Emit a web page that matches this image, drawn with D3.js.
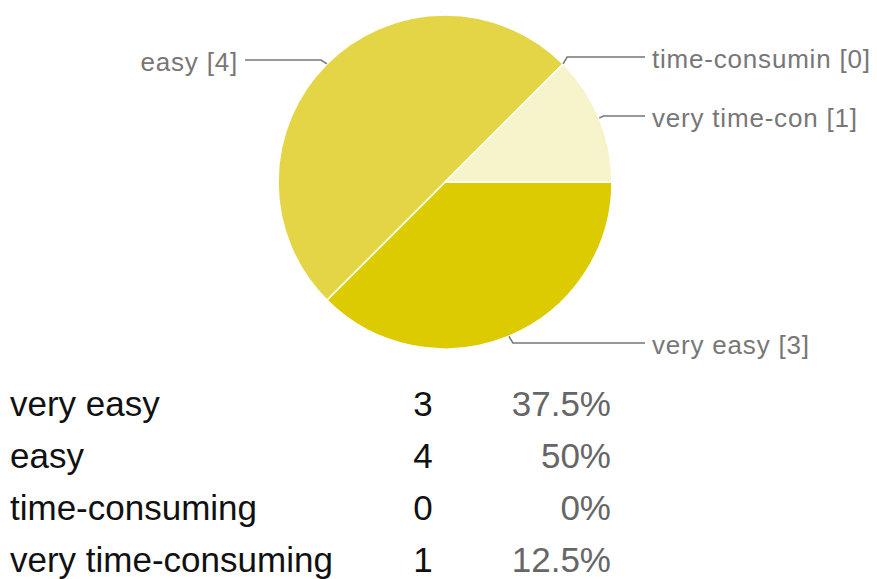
<!DOCTYPE html>
<html>
<head>
<meta charset="utf-8">
<script src="https://cdn.jsdelivr.net/npm/d3@7"></script>
<style>
  html, body { margin: 0; padding: 0; background: #fff; }
  svg { display: block; }
</style>
</head>
<body>
<svg id="chart" width="877" height="579"></svg>
<script>
const categories = ["very easy", "easy", "time-consuming", "very time-consuming"];
const shortLabels = ["very easy", "easy", "time-consumin", "very time-con"];
const counts = [3, 4, 0, 1];
const percents = ["37.5%", "50%", "0%", "12.5%"];
const colors = ["#DCCB00", "#E3D546", "#EEE48A", "#F7F3CB"];

const svg = d3.select("#chart");
const cx = 445, cy = 182, r = 167;
const FONT = "Liberation Sans, Arial, Helvetica, sans-serif";

const pie = d3.pie().sort(null).startAngle(Math.PI / 2).endAngle(Math.PI / 2 + 2 * Math.PI);
const arcs = pie(counts);
const arc = d3.arc().innerRadius(0).outerRadius(r);

const g = svg.append("g").attr("transform", `translate(${cx},${cy})`);
g.selectAll("path.slice")
  .data(arcs.filter(d => d.value > 0))
  .join("path")
  .attr("class", "slice")
  .attr("d", arc)
  .attr("fill", (d) => colors[d.index])
  .attr("stroke", "#fff")
  .attr("stroke-width", 1.5);

// leader line level for each label
const lineY = [343, 60, 57, 116];
arcs.forEach((d, i) => {
  const mid = (d.startAngle + d.endAngle) / 2;
  const ax = cx + r * Math.sin(mid);
  const ay = cy - r * Math.cos(mid);
  const right = Math.sin(mid) > 0;
  const ly = lineY[i];
  const bendX = right ? ax + 4 : ax - 6;
  const endX = right ? 645 : 245;
  svg.append("path")
    .attr("d", `M${ax},${ay} L${bendX},${ly} L${endX},${ly}`)
    .attr("fill", "none")
    .attr("stroke", "#777")
    .attr("stroke-width", 1.5);
  svg.append("text")
    .attr("x", right ? 652 : 238)
    .attr("y", ly + 2)
    .attr("dy", "0.35em")
    .attr("text-anchor", right ? "start" : "end")
    .attr("font-family", FONT)
    .attr("font-size", 26)
    .attr("letter-spacing", 0.8)
    .attr("fill", "#777")
    .text(`${shortLabels[i]} [${counts[i]}]`);
});

// table
const rowY = d3.scalePoint().domain(categories).range([404, 560]);
const tf = 35;
const rows = svg.append("g");
categories.forEach((c, i) => {
  const y = rowY(c);
  rows.append("text").attr("x", 10).attr("y", y).attr("dy", "0.35em")
    .attr("font-family", FONT).attr("font-size", tf)
    .attr("fill", "#111").text(c);
  rows.append("text").attr("x", 423).attr("y", y).attr("dy", "0.35em")
    .attr("text-anchor", "middle")
    .attr("font-family", FONT).attr("font-size", tf)
    .attr("fill", "#111").text(counts[i]);
  rows.append("text").attr("x", 611).attr("y", y).attr("dy", "0.35em")
    .attr("text-anchor", "end")
    .attr("font-family", FONT).attr("font-size", tf)
    .attr("fill", "#666").text(percents[i]);
});
</script>
</body>
</html>
